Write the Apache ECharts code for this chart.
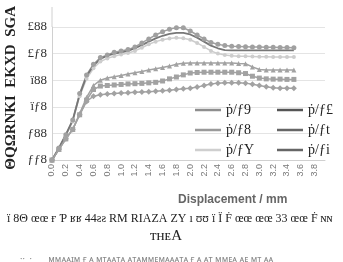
<!DOCTYPE html>
<html>
<head>
<meta charset="utf-8">
<script src="https://cdn.jsdelivr.net/npm/echarts@6/dist/echarts.min.js"></script>
<style>
  html, body { margin: 0; padding: 0; background: #fff; }
  #main { width: 343px; height: 262px; }
</style>
</head>
<body>
<div id="main"></div>
<script>
// displacement (mm)
const xValues = [0,0.1,0.2,0.3,0.4,0.5,0.6,0.7,0.8,0.9,1.0,1.1,1.2,1.3,1.4,1.5,1.6,1.7,1.8,1.9,
  2.0,2.1,2.2,2.3,2.4,2.5,2.6,2.7,2.8,2.9,3.0,3.1,3.2,3.3,3.4,3.5]

const circleVals = [0,0.45,0.95,1.5,2.5,3.2,3.6,3.85,3.95,4.05,4.1,4.15,4.25,4.4,4.55,4.7,4.82,4.92,4.97,4.97,
  4.85,4.7,4.55,4.42,4.35,4.3,4.28,4.27,4.26,4.25,4.25,4.24,4.24,4.23,4.23,4.22]
const darkVals = [0,0.45,0.95,1.5,2.45,3.15,3.55,3.8,3.92,4.0,4.05,4.1,4.2,4.32,4.45,4.57,4.67,4.74,4.78,4.78,
  4.72,4.6,4.45,4.3,4.2,4.13,4.12,4.12,4.12,4.12,4.12,4.12,4.12,4.12,4.12,4.12]
const lightVals = [0,0.45,0.9,1.45,2.4,3.05,3.45,3.7,3.82,3.9,3.97,4.02,4.1,4.22,4.35,4.45,4.52,4.57,4.6,4.58,
  4.52,4.4,4.25,4.1,4.0,3.95,3.92,3.9,3.9,3.89,3.88,3.88,3.87,3.87,3.87,3.87]
const triangleVals = [0,0.4,0.8,1.15,1.75,2.35,2.8,3.0,3.08,3.13,3.18,3.23,3.28,3.33,3.38,3.43,3.48,3.53,3.6,3.64,
  3.65,3.65,3.65,3.65,3.65,3.65,3.65,3.63,3.62,3.5,3.4,3.38,3.38,3.38,3.38,3.38]
const squareVals = [0,0.4,0.8,1.15,1.7,2.25,2.65,2.78,2.8,2.82,2.84,2.86,2.87,2.88,2.9,2.92,2.97,3.05,3.12,3.2,
  3.27,3.29,3.3,3.3,3.3,3.3,3.3,3.28,3.25,3.15,3.08,3.05,3.04,3.04,3.03,3.03]
const diamondVals = [0,0.4,0.8,1.15,1.7,2.2,2.4,2.45,2.48,2.5,2.52,2.53,2.55,2.56,2.57,2.58,2.6,2.62,2.65,2.68,
  2.7,2.74,2.8,2.86,2.89,2.9,2.9,2.9,2.89,2.85,2.8,2.75,2.72,2.7,2.7,2.7]

const yTickLabels = ['ƒƒ8', 'ƒ88', 'ïƒ8', 'ï88', '£ƒ8', '£88']
const seriesNames = ['ṗ/ƒ9', 'ṗ/ƒ8', 'ṗ/ƒY', 'ṗ/ƒ£', 'ṗ/ƒt', 'ṗ/ƒi']

const pairs = vals => xValues.map((x, i) => [x, vals[i]])

const chart = echarts.init(document.getElementById('main'), null, { renderer: 'canvas' })

function lineSeries(name, vals, color, symbol, size, width) {
  return {
    name: name,
    type: 'line',
    data: pairs(vals),
    symbol: symbol,
    symbolSize: size,
    showSymbol: symbol !== 'none',
    lineStyle: { color: color, width: width || 1.5 },
    itemStyle: { color: color },
    silent: true,
    animation: false
  }
}

const legendStyle = {
  orient: 'vertical',
  icon: 'rect',
  itemWidth: 26,
  itemHeight: 2.5,
  itemGap: 6,
  textStyle: { fontFamily: 'Liberation Serif', fontSize: 14, color: '#222' }
}

const option = {
  animation: false,
  grid: { left: 52, right: 18, top: 27, bottom: 102 },
  xAxis: {
    type: 'value',
    min: 0,
    max: 3.95,
    interval: 0.2,
    axisLine: { lineStyle: { color: '#d0d0d0' } },
    axisTick: { show: false },
    splitLine: { show: false },
    axisLabel: {
      rotate: 90,
      margin: 4,
      color: '#777',
      fontFamily: 'Liberation Sans',
      fontSize: 9,
      showMaxLabel: false,
      formatter: v => v.toFixed(1)
    }
  },
  yAxis: {
    type: 'value',
    min: 0,
    max: 5,
    interval: 1,
    axisLine: { show: true, lineStyle: { color: '#d0d0d0' } },
    axisTick: { show: false },
    splitLine: { lineStyle: { color: '#e4e4e4' } },
    axisLabel: {
      margin: 5,
      color: '#333',
      fontFamily: 'Liberation Serif',
      fontSize: 13,
      formatter: v => yTickLabels[v] || ''
    }
  },
  legend: [
    Object.assign({}, legendStyle, {
      left: 190, top: 98,
      data: [
        { name: seriesNames[0], itemStyle: { color: '#8e8e8e' } },
        { name: seriesNames[1], itemStyle: { color: '#9a9a9a' } },
        { name: seriesNames[2], itemStyle: { color: '#cfcfcf' } }
      ]
    }),
    Object.assign({}, legendStyle, {
      left: 272, top: 98,
      data: [
        { name: seriesNames[3], itemStyle: { color: '#555' } },
        { name: seriesNames[4], itemStyle: { color: '#666' } },
        { name: seriesNames[5], itemStyle: { color: '#666' } }
      ]
    })
  ],
  series: [
    lineSeries(seriesNames[0], triangleVals, '#a2a2a2', 'triangle', 5),
    lineSeries(seriesNames[1], squareVals, '#a2a2a2', 'rect', 5),
    lineSeries(seriesNames[2], lightVals, '#cdcdcd', 'circle', 4),
    lineSeries(seriesNames[3], circleVals, '#a0a0a0', 'circle', 5),
    lineSeries(seriesNames[4], darkVals, '#777', 'none', 0, 1.8),
    lineSeries(seriesNames[5], diamondVals, '#a2a2a2', 'diamond', 6)
  ],
  graphic: [
    // y axis line continues above the top tick
    { type: 'line', shape: { x1: 52, y1: 7, x2: 52, y2: 27 }, style: { stroke: '#d0d0d0', lineWidth: 1 }, silent: true },
    {
      type: 'text', left: 4, top: 6, rotation: Math.PI / 2,
      style: { text: 'ΘQΩRNKI  EKXD  SGA', font: 'bold 15px "Liberation Serif"', fill: '#222' }
    },
    {
      type: 'text', left: 178, top: 194,
      style: { text: 'Displacement / mm', font: 'bold 12px "Liberation Sans"', fill: '#666' }
    },
    {
      type: 'text', left: 7, top: 213,
      style: { text: 'ï 8Θ œœ ғ Ƥ ʁʁ 44ƨƨ RM RIAZA ZY ı ʊʊ ï Ï Ḟ œœ œœ 33 œœ Ḟ ɴɴ', font: '12px "Liberation Serif"', fill: '#222' }
    },
    {
      type: 'text', left: 150, top: 229,
      style: { text: 'ᴛʜᴇA', font: '15px "Liberation Serif"', fill: '#222' }
    },
    {
      type: 'text', left: 20, top: 255,
      style: { text: '··  ·       ᴍᴍᴀᴀɪᴍ ғ ᴀ ᴍᴛᴀᴀᴛᴀ ᴀᴛᴀᴍᴍᴇᴍᴀᴀᴀᴛᴀ ғ ᴀ ᴀᴛ ᴍᴍᴇᴀ ᴀᴇ ᴍᴛ ᴀᴀ', font: '9px "Noto Sans"', fill: '#888' }
    }
  ]
}

chart.setOption(option)
</script>
</body>
</html>
